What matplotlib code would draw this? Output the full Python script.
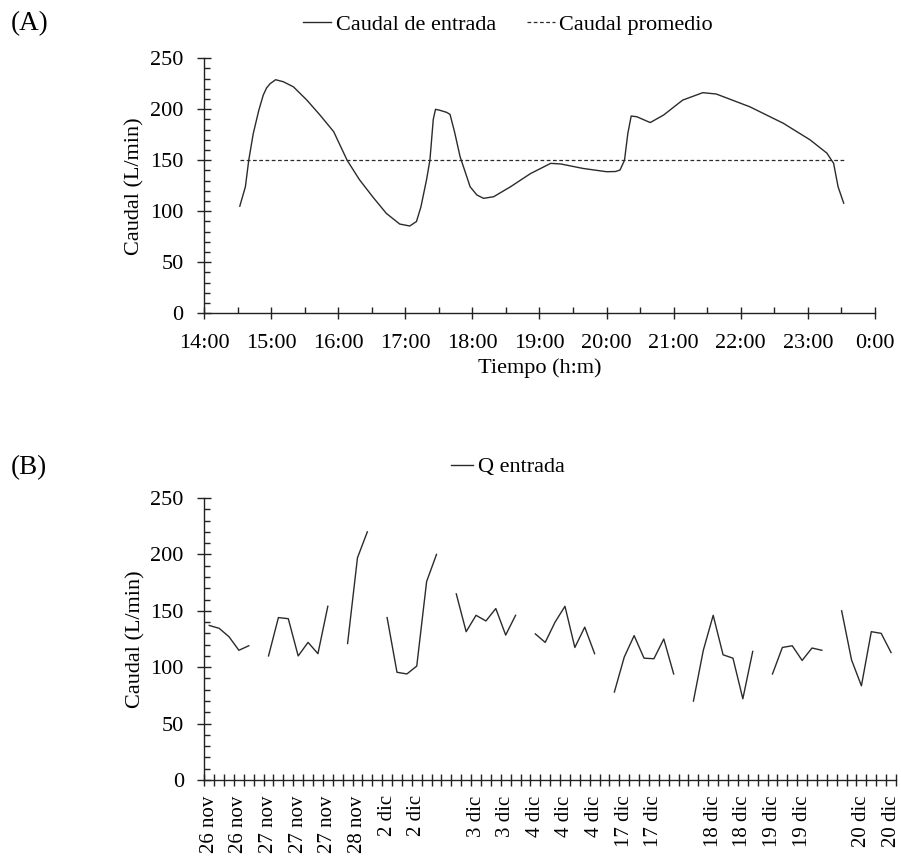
import matplotlib
matplotlib.use("Agg")
import matplotlib.pyplot as plt
from matplotlib.lines import Line2D
import numpy as np

plt.rcParams['font.family'] = ['Liberation Serif', 'DejaVu Serif']

# ---------------- Panel A data ----------------
time_a = ["14:32", "14:37", "14:40", "14:44", "14:49", "14:53", "14:56", "14:59",
          "15:04", "15:11", "15:20", "15:32", "15:44", "15:56", "16:08", "16:19",
          "16:31", "16:43", "16:55", "17:04", "17:10", "17:14", "17:19", "17:22",
          "17:25", "17:27", "17:31", "17:37", "17:40", "17:44", "17:49", "17:58",
          "18:04", "18:10", "18:19", "18:34", "18:52", "19:10", "19:19", "19:39",
          "20:00", "20:08", "20:12", "20:16", "20:19", "20:22", "20:27", "20:39",
          "20:51", "21:08", "21:26", "21:38", "22:08", "22:38", "23:02", "23:17",
          "23:23", "23:27", "23:32"]
caudal_a = [105, 124, 150, 176, 199, 214, 221, 225,
            229, 227, 222, 209, 194, 178, 150, 131,
            114, 98, 87.5, 85.6, 90, 104.5, 131, 150,
            190, 200, 199, 197, 195, 178, 153.5, 124,
            116, 112.7, 114.3, 124, 137, 147, 146.4, 142,
            138.8, 139, 140.5, 150, 176.5, 193.4, 192.7, 187,
            194.4, 209, 216.3, 215, 202.5, 186.3, 170, 157,
            147, 124, 108]
caudal_promedio = 150
promedio_span = ["14:32", "23:32"]
xticklabels_a = ["14:00", "15:00", "16:00", "17:00", "18:00", "19:00",
                 "20:00", "21:00", "22:00", "23:00", "0:00"]

# ---------------- Panel B data ----------------
fechas_b = (["26 nov"] * 5 + [""] + ["27 nov"] * 7 + [""] + ["28 nov"] * 3 + [""] +
            ["2 dic"] * 6 + [""] + ["3 dic"] * 7 + [""] + ["4 dic"] * 7 + [""] +
            ["17 dic"] * 7 + [""] + ["18 dic"] * 7 + [""] + ["19 dic"] * 6 + [""] +
            ["20 dic"] * 6)
nan = np.nan
q_entrada = [137, 134.5, 127, 115, 119, nan,
             110, 144, 143, 110, 122, 112, 154, nan,
             121, 197, 220, nan,
             144, 95.5, 94, 101, 176, 200, nan,
             165, 131.5, 146, 141, 152, 128.5, 146, nan,
             129.5, 122, 140, 154, 117.5, 135.5, 112, nan,
             78, 109, 128, 108, 107.5, 125, 94, nan,
             70, 115, 146, 111, 108, 72, 114, nan,
             94, 117.5, 119, 106, 117, 115, nan,
             150, 106.5, 83.5, 131.5, 130, 113]

LC = '#2b2b2b'
FS = 16

def to_hours(s):
    h, m = s.split(":")
    return int(h) + int(m) / 60.0

fig = plt.figure(figsize=(9.01, 8.59), dpi=100)

# ---------------- Panel A ----------------
axA = fig.add_axes([204 / 901, 1 - 313.3 / 859, 671 / 901, 255 / 859])
tA = [to_hours(s) for s in time_a]
axA.plot(tA, caudal_a, color=LC, lw=1.0)
span = [to_hours(s) for s in promedio_span]
axA.plot(span, [caudal_promedio] * 2, color=LC, lw=0.9, ls=(0, (3, 2)))
axA.set_xlim(14, 24)
axA.set_ylim(0, 250)
axA.set_xticks(np.arange(14, 25, 1))
axA.set_xticklabels(xticklabels_a)
axA.set_xticks(np.arange(14.5, 24, 1), minor=True)
axA.set_yticks(np.arange(0, 251, 50))
axA.set_yticks(np.arange(0, 251, 10), minor=True)
axA.set_xlabel("Tiempo (h:m)", fontsize=FS)
axA.xaxis.set_label_coords(0.5, -0.178)
axA.set_ylabel("Caudal (L/min)", fontsize=FS)
axA.yaxis.set_label_coords(-0.088, 0.5)

# ---------------- Panel B ----------------
axB = fig.add_axes([204.3 / 901, 1 - 780 / 859, 691.7 / 901, 282 / 859])
n = len(q_entrada)
xB = np.arange(n) + 0.5
axB.plot(xB, q_entrada, color=LC, lw=1.0)
axB.set_xlim(0, n)
axB.set_ylim(0, 250)
axB.set_xticks(np.arange(0, n + 1, 1))
axB.set_xticklabels([])
lab_idx = np.arange(0, n, 3)
axB.set_xticks(lab_idx + 0.5, minor=True)
axB.set_xticklabels([fechas_b[i] for i in lab_idx], minor=True, rotation=90,
                    fontsize=FS - 1)
axB.set_yticks(np.arange(0, 251, 50))
axB.set_yticks(np.arange(0, 251, 10), minor=True)
axB.set_ylabel("Caudal (L/min)", fontsize=FS)
axB.yaxis.set_label_coords(-0.0857, 0.5)

for ax in (axA, axB):
    for s in ('top', 'right'):
        ax.spines[s].set_visible(False)
    for s in ('left', 'bottom'):
        ax.spines[s].set_color('#222222')
        ax.spines[s].set_linewidth(1.0)
    ax.tick_params(axis='y', which='major', direction='inout', length=9.5,
                   width=1.0, color='#222222', labelsize=FS, pad=10)
    ax.tick_params(axis='y', which='minor', direction='in', length=4.5,
                   width=1.0, color='#222222')

axA.tick_params(axis='x', which='major', direction='inout', length=8,
                width=1.0, color='#222222', labelsize=FS, pad=11)
axA.tick_params(axis='x', which='minor', direction='in', length=4,
                width=1.0, color='#222222')
axB.tick_params(axis='x', which='major', direction='inout', length=9,
                width=1.0, color='#222222')
axB.tick_params(axis='x', which='minor', length=0, pad=11)

# ---------------- Legends and panel letters ----------------
hA = [Line2D([], [], color=LC, lw=1.0),
      Line2D([], [], color=LC, lw=0.9, ls=(0, (3, 2)))]
fig.legend(hA, ["Caudal de entrada", "Caudal promedio"], loc='center',
           bbox_to_anchor=(508 / 901, 1 - 25 / 859), ncol=2, frameon=False,
           fontsize=FS, handlelength=1.25, handletextpad=0.2, columnspacing=1.4)
hB = [Line2D([], [], color=LC, lw=1.0)]
fig.legend(hB, ["Q entrada"], loc='center',
           bbox_to_anchor=(508 / 901, 1 - 467 / 859), ncol=1, frameon=False,
           fontsize=FS, handlelength=1.0, handletextpad=0.2)

fig.text(11 / 901, 1 - 24 / 859, "(A)", fontsize=19.5, ha='left', va='center')
fig.text(11 / 901, 1 - 468 / 859, "(B)", fontsize=19.5, ha='left', va='center')

fig.savefig("out.png", dpi=100)
